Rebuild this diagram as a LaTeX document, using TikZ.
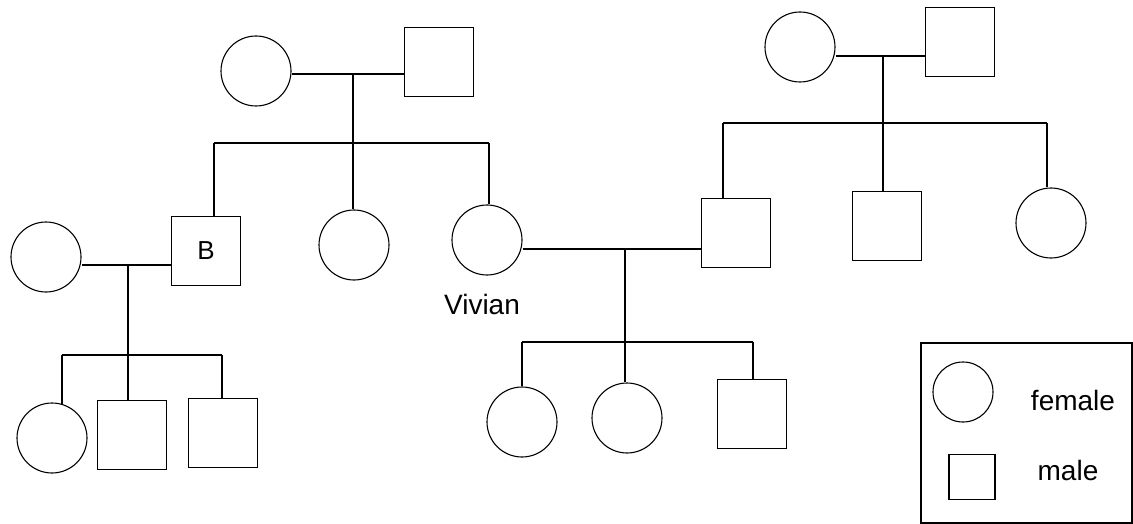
\documentclass[tikz,border=0pt]{standalone}
\usepackage{fontspec}
\setmainfont{Liberation Sans}
\usetikzlibrary{shapes.geometric}
\begin{document}
\begin{tikzpicture}[x=1pt,y=-1pt,line width=1.1pt,
  fem/.style={draw,circle,minimum size=70pt,inner sep=0pt},
  mal/.style={draw,rectangle,minimum size=69pt,inner sep=0pt},
  lbl/.style={font=\fontsize{28}{32}\selectfont,inner sep=0pt}]
\useasboundingbox (0,0) rectangle (1133,524);
% top-left couple
\node[fem] (gm1) at (256,71) {};
\node[mal] (gf1) at (439,62) {};
\draw (gm1.east|-0,74) -- (gf1.west|-0,74);
\coordinate (c1) at (353,74);
\coordinate (s1) at (353,143);
\draw (c1) -- (s1);
% children of gen 1
\node[mal,font=\fontsize{26}{30}\selectfont] (B) at (206,251) {B};
\node[fem] (sis) at (354,245) {};
\node[fem] (viv) at (487,240) {};
\node[lbl] (vivl) at (482,304) {Vivian};
\coordinate (sl1) at (214,143);
\coordinate (sr1) at (489,143);
\draw (sl1) -- (sr1);
\draw (sl1) -- (sl1|-B.north);
\draw (s1) -- (s1|-sis.north);
\draw (sr1) -- (sr1|-viv.north);
% B and wife
\node[fem] (bw) at (46,257) {};
\draw (bw.east|-0,265) -- (B.west|-0,265);
\coordinate (c2) at (128,265);
\coordinate (s2) at (128,355);
\draw (c2) -- (s2);
\node[fem] (k1) at (52,438) {};
\node[mal] (k2) at (132,435) {};
\node[mal] (k3) at (223,433) {};
\coordinate (sl2) at (62,355);
\coordinate (sr2) at (222,355);
\draw (sl2) -- (sr2);
\draw (sl2) -- (62,404);
\draw (s2) -- (s2|-k2.north);
\draw (sr2) -- (sr2|-k3.north);
% top-right couple
\node[fem] (gm2) at (800,47) {};
\node[mal] (gf2) at (960,42) {};
\draw (gm2.east|-0,56) -- (gf2.west|-0,56);
\coordinate (c3) at (883,56);
\coordinate (s3) at (883,123);
\draw (c3) -- (s3);
\node[mal] (hus) at (736,233) {};
\node[mal] (bro) at (887,226) {};
\node[fem] (sis2) at (1051,223) {};
\coordinate (sl3) at (723,123);
\coordinate (sr3) at (1047,123);
\draw (sl3) -- (sr3);
\draw (sl3) -- (sl3|-hus.north);
\draw (s3) -- (s3|-bro.north);
\draw (sr3) -- (sr3|-sis2.north);
% Vivian and husband
\draw (viv.east|-0,249) -- (hus.west|-0,249);
\coordinate (c4) at (625,249);
\coordinate (s4) at (625,342);
\draw (c4) -- (s4);
\node[fem] (g1) at (522,422) {};
\node[fem] (g2) at (627,418) {};
\node[mal] (g3) at (752,414) {};
\coordinate (sl4) at (522,342);
\coordinate (sr4) at (753,342);
\draw (sl4) -- (sr4);
\draw (sl4) -- (g1.north);
\draw (s4) -- (s4|-g2.north);
\draw (sr4) -- (sr4|-g3.north);
% legend
\draw (921,343) rectangle (1132,523);
\node[draw,circle,minimum size=60pt,inner sep=0pt] (lf) at (963,392) {};
\node[draw,rectangle,minimum width=46pt,minimum height=45pt,inner sep=0pt] (lm) at (972,477) {};
\node[lbl] (lft) at (1073,400) {female};
\node[lbl] (lmt) at (1068,470) {male};
\end{tikzpicture}
\end{document}
